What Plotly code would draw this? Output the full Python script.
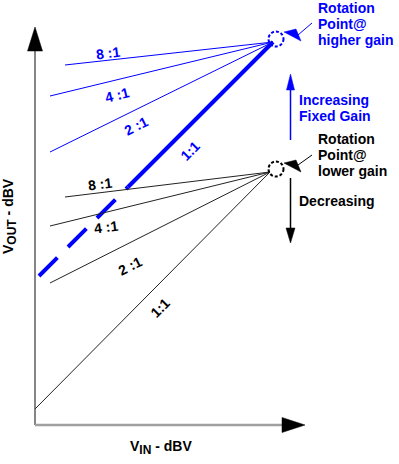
import plotly.graph_objects as go

# ---------------- data (diagram units: 1 unit = 1 px, origin at axes corner) -------------
ratio_labels = ["8 :1", "4 :1", "2 :1", "1:1"]

# higher-gain family (blue): left end points of each compression line
hi_x0 = [30, 15, 15, 4]
hi_y0 = [360, 329, 273, 149]
hi_rot = [238, 383]          # rotation point @ higher gain
hi_unity_solid_x = 93        # 1:1 line becomes solid from here

# lower-gain family (black)
lo_x0 = [30, 15, 15, 0]
lo_y0 = [228, 199, 142, 16]
lo_rot = [235, 253]          # rotation point @ lower gain

BLUE = "#0000ff"
BLACK = "#000000"
FONT = "Liberation Sans, Arial, sans-serif"

fig = go.Figure()

# blue thin lines (8:1, 4:1, 2:1)
for i in range(3):
    fig.add_trace(go.Scatter(x=[hi_x0[i], hi_rot[0]], y=[hi_y0[i], hi_rot[1]],
                             mode="lines", line=dict(color=BLUE, width=1),
                             hoverinfo="skip", showlegend=False))
# blue 1:1 thick line: dashed lower part, solid upper part
ys = hi_y0[3] + (hi_unity_solid_x - hi_x0[3])
fig.add_trace(go.Scatter(x=[hi_x0[3], hi_unity_solid_x], y=[hi_y0[3], ys],
                         mode="lines", line=dict(color=BLUE, width=4, dash="26px,15px"),
                         hoverinfo="skip", showlegend=False))
fig.add_trace(go.Scatter(x=[hi_unity_solid_x, hi_rot[0]], y=[ys, hi_rot[1]],
                         mode="lines", line=dict(color=BLUE, width=4),
                         hoverinfo="skip", showlegend=False))
# black lines
for i in range(4):
    fig.add_trace(go.Scatter(x=[lo_x0[i], lo_rot[0]], y=[lo_y0[i], lo_rot[1]],
                             mode="lines", line=dict(color="#222222", width=1),
                             hoverinfo="skip", showlegend=False))

shapes = []
def tri(pts, color):
    d = "M " + " L ".join(f"{x},{y}" for x, y in pts) + " Z"
    return dict(type="path", path=d, xref="x", yref="y", fillcolor=color,
                line=dict(color=color, width=0.5), layer="above")

def line(x0, y0, x1, y1, color, width):
    return dict(type="line", x0=x0, y0=y0, x1=x1, y1=y1, xref="x", yref="y",
                line=dict(color=color, width=width), layer="above")

# diagram axes with arrowheads
shapes.append(line(0, 0, 0, 374, "#333333", 1.2))
shapes.append(tri([(0, 398), (-7.5, 374), (7.5, 374)], BLACK))
shapes.append(line(0, 0, 249, 0, "#a0a0a0", 2.5))
shapes.append(tri([(270, 0), (247, 7.5), (247, -7.5)], BLACK))

# rotation point circles
for cy, col in [(386, BLUE), (256, BLACK)]:
    shapes.append(dict(type="circle", xref="x", yref="y", x0=241 - 7.5, x1=241 + 7.5,
                       y0=cy - 7.5, y1=cy + 7.5,
                       line=dict(color=col, width=2, dash="3px,2px"), layer="above"))

# pointer arrows to the circles
shapes.append(line(263, 390, 277, 402, BLUE, 1))
shapes.append(tri([(249, 393), (266, 384), (261, 396)], BLUE))
shapes.append(line(263, 260, 277, 270, BLACK, 1))
shapes.append(tri([(249, 262), (266, 253), (261, 265)], BLACK))

# vertical arrows
shapes.append(line(255.5, 285, 255.5, 335, BLUE, 1.5))
shapes.append(tri([(255.5, 351), (251.5, 335), (259.5, 335)], BLUE))
shapes.append(line(255.5, 247, 255.5, 197, BLACK, 1.5))
shapes.append(tri([(255.5, 182), (251, 197), (260, 197)], BLACK))

ann = []
def txt(x, y, s, color, angle=0, xanchor="center", size=14):
    ann.append(dict(x=x, y=y, xref="x", yref="y", text=s, showarrow=False,
                    textangle=angle, xanchor=xanchor, yanchor="middle",
                    font=dict(family=FONT, size=size, color=color)))

# ratio labels (higher gain)
hi_lbl_pos = [(73, 372, -7), (82, 330, -14), (101, 299, -27), (155, 274, -45)]
for (x, y, a), s in zip(hi_lbl_pos, ratio_labels):
    txt(x, y, "<b>" + s + "</b>", BLUE, a)
lo_lbl_pos = [(65, 241, -7), (71, 198, -7), (95, 159, -27), (125, 117, -45)]
for (x, y, a), s in zip(lo_lbl_pos, ratio_labels):
    txt(x, y, "<b>" + s + "</b>", BLACK, a)

# right-side texts
for i, s in enumerate(["Rotation", "Point@", "higher gain"]):
    txt(281, 417 - 16 * i, "<b>" + s + "</b>", BLUE, xanchor="left")
for i, s in enumerate(["Increasing", "Fixed Gain"]):
    txt(262, 325 - 16 * i, "<b>" + s + "</b>", BLUE, xanchor="left")
for i, s in enumerate(["Rotation", "Point@", "lower gain"]):
    txt(281, 286 - 16 * i, "<b>" + s + "</b>", BLACK, xanchor="left")
txt(262, 224, "<b>Decreasing</b>", BLACK, xanchor="left")

# axis titles
txt(-26, 209, "<b>V<sub><span style='font-size:12px'>OUT</span></sub> - dBV</b>", BLACK, angle=-90)
txt(126, -22, "<b>V<sub><span style='font-size:12px'>IN</span></sub> - dBV</b>", BLACK)

fig.update_layout(
    width=399, height=464,
    margin=dict(l=0, r=0, t=0, b=0),
    paper_bgcolor="white", plot_bgcolor="white",
    xaxis=dict(range=[-35, 364], visible=False, fixedrange=True),
    yaxis=dict(range=[-39, 425], visible=False, fixedrange=True),
    shapes=shapes, annotations=ann, showlegend=False,
)
fig.write_html("out.html", config={"displayModeBar": False},
               post_script="document.body.style.margin='0px';document.body.style.overflow='hidden';")
